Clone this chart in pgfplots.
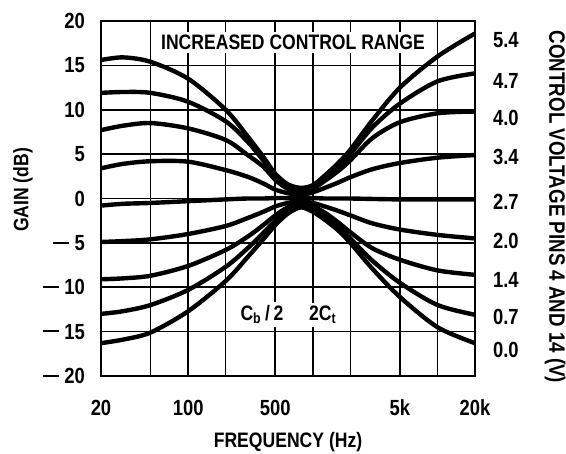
\documentclass[border=0pt]{standalone}
\usepackage{fontspec}
\setmainfont{Liberation Sans}[FakeStretch=0.84]
\usepackage{pgfplots}
\usepackage{pgfplotstable}
\pgfplotsset{compat=1.18}
\newcommand\mn{\rule[0.3em]{0.75em}{0.1em}\hspace{0.25em}}

% gain (dB) of each curve, one column per control voltage (5.4 V ... 0.0 V)
\pgfplotstableread{
f     c1    c2    c3    c4    c5     c6    c7    c8     c9
20    15.6  11.9  7.7   3.4   -0.8   -4.9  -9.1  -13.0  -16.3
30    15.9  12.0  8.2   3.9   -0.6   -4.8  -9.0  -12.7  -15.9
50    15.4  11.9  8.5   4.2   -0.5   -4.6  -8.7  -12.0  -15.1
100   13.5  10.9  7.9   4.15  -0.3   -4.0  -7.6  -10.3  -12.7
200   10.0  8.7   6.6   3.2   -0.1   -3.1  -5.8  -7.7   -9.3
300   7.0   6.4   4.9   2.45  0.0    -2.2  -4.3  -5.6   -6.6
400   4.7   4.3   3.6   1.7   0.0    -1.5  -3.0  -3.9   -4.6
500   2.8   2.5   2.1   1.0   0.05   -0.9  -1.9  -2.5   -3.0
630   1.6   1.4   1.1   0.6   0.05   -0.5  -1.0  -1.3   -1.7
800   1.2   1.0   0.8   0.4   0.05   -0.3  -0.6  -0.8   -1.0
1000  1.5   1.3   1.1   0.7   0.05   -0.5  -0.9  -1.2   -1.5
1250  2.6   2.3   2.0   1.2   0.0    -0.9  -1.6  -2.0   -2.4
1600  4.0   3.6   3.1   1.8   0.0    -1.4  -2.7  -3.2   -3.6
2000  5.5   5.0   4.3   2.4   0.0    -1.9  -3.8  -4.5   -5.0
3000  8.8   8.0   6.8   3.3   -0.05  -2.8  -5.6  -7.0   -7.9
5000  12.5  10.7  8.6   4.0   -0.1   -3.5  -6.9  -9.5   -11.1
10000 16.0  13.2  9.6   4.6   -0.1   -4.1  -8.1  -12.0  -14.5
20000 18.6  14.1  9.8   4.9   -0.1   -4.5  -8.6  -13.1  -16.3
}\gain

\begin{document}
\begin{tikzpicture}
\begin{axis}[name=ax,
    scale only axis, width=187bp, height=177.5bp,
    xmode=log, xmin=20, xmax=20000, ymin=-20, ymax=20,
    major tick length=0pt, minor tick length=0pt,
    tick label style={font=\fontsize{11}{12}\selectfont\bfseries},
    label style={font=\fontsize{10.5}{12}\selectfont\bfseries},
    xtick={20,100,500,5000,20000},
    xticklabels={20,100,500,5k,20k},
    minor xtick={50,200,1000,2000,10000},
    ytick={-20,-15,...,20},
    yticklabels={\mn20,\mn15,\mn10,\mn5,0,5,10,15,20},
    grid=both,
    major grid style={black, line width=0.8bp},
    minor grid style={black, line width=0.8bp},
    axis line style={line width=1.1bp},
    yticklabel style={xshift=-4.5bp},
    xticklabel style={yshift=-8.5bp},
    xlabel={FREQUENCY (Hz)},
    ylabel={GAIN (dB)},
    xlabel style={at={(axis description cs:0.5,-0.186)}, anchor=center},
    ylabel style={at={(axis description cs:-0.2086,0.524)}, anchor=center},
  ]
  \addplot[black, line width=2.2bp, smooth] table[x=f, y=c1] {\gain};
  \addplot[black, line width=2.2bp, smooth] table[x=f, y=c2] {\gain};
  \addplot[black, line width=2.2bp, smooth] table[x=f, y=c3] {\gain};
  \addplot[black, line width=2.2bp, smooth] table[x=f, y=c4] {\gain};
  \addplot[black, line width=2.2bp, smooth] table[x=f, y=c5] {\gain};
  \addplot[black, line width=2.2bp, smooth] table[x=f, y=c6] {\gain};
  \addplot[black, line width=2.2bp, smooth] table[x=f, y=c7] {\gain};
  \addplot[black, line width=2.2bp, smooth] table[x=f, y=c8] {\gain};
  \addplot[black, line width=2.2bp, smooth] table[x=f, y=c9] {\gain};
  \node[fill=white, inner sep=1.5bp, font=\fontsize{10.5}{12}\selectfont\bfseries] at (axis cs:693,17.6) {INCREASED CONTROL RANGE};
  \node[fill=white, inner sep=1.5bp, font=\fontsize{10.5}{12}\selectfont\bfseries] at (axis cs:391,-13.1) {C\textsubscript{b}\,/\,2};
  \node[fill=white, inner sep=1.5bp, font=\fontsize{10.5}{12}\selectfont\bfseries] at (axis cs:1205,-13.1) {2C\textsubscript{t}};
\end{axis}
\begin{axis}[at={(ax.south west)}, anchor=south west,
    scale only axis, width=187bp, height=177.5bp,
    xmin=20, xmax=20000, ymin=-20, ymax=20,
    major tick length=0pt,
    tick label style={font=\fontsize{11}{12}\selectfont\bfseries},
    label style={font=\fontsize{11.2}{12}\selectfont\bfseries},
    axis x line=none, axis y line*=right,
    axis line style={line width=1.1bp},
    ytick={17.9,13.3,9.1,4.7,-0.4,-4.8,-9.2,-13.4,-17.1},
    yticklabels={5.4,4.7,4.0,3.4,2.7,2.0,1.4,0.7,0.0},
    yticklabel style={xshift=5.5bp},
    ylabel={CONTROL VOLTAGE PINS 4 AND 14 (V)},
    ylabel style={at={(axis description cs:1.214,0.476)}, anchor=center, rotate=180},
  ]
\end{axis}
\pgfresetboundingbox
\path[use as bounding box] ([xshift=-50.5bp,yshift=-39bp]ax.south west) rectangle ([xshift=45.5bp,yshift=10.5bp]ax.north east);
\end{tikzpicture}
\end{document}
